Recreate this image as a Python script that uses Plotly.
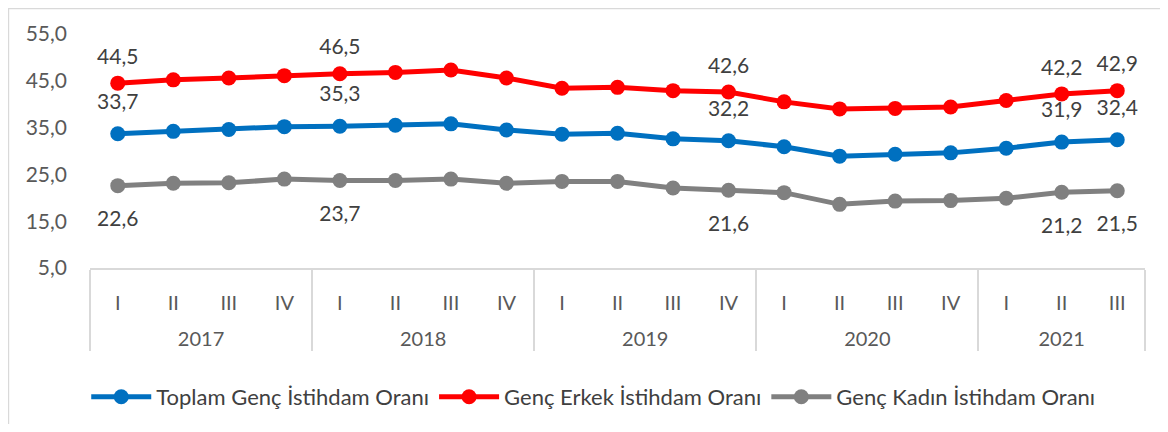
import plotly.graph_objects as go

years = ["2017"] * 4 + ["2018"] * 4 + ["2019"] * 4 + ["2020"] * 4 + ["2021"] * 3
quarters = ["I", "II", "III", "IV"] * 4 + ["I", "II", "III"]

toplam = [33.7, 34.2, 34.6, 35.2, 35.3, 35.5, 35.8, 34.5, 33.6, 33.8, 32.6, 32.2,
          30.9, 28.9, 29.3, 29.6, 30.6, 31.9, 32.4]
erkek = [44.5, 45.2, 45.6, 46.1, 46.5, 46.8, 47.3, 45.6, 43.4, 43.6, 42.9, 42.6,
         40.5, 39.0, 39.1, 39.4, 40.8, 42.2, 42.9]
kadin = [22.6, 23.1, 23.2, 24.0, 23.7, 23.7, 24.0, 23.1, 23.5, 23.5, 22.1, 21.6,
         21.1, 18.6, 19.3, 19.4, 19.9, 21.2, 21.5]

labeled_idx = [0, 4, 11, 17, 18]
series_names = ["Toplam Genç İstihdam Oranı", "Genç Erkek İstihdam Oranı", "Genç Kadın İstihdam Oranı"]
colors = ["#0070C0", "#FF0000", "#808080"]
ytick_vals = [5, 15, 25, 35, 45, 55]

FONT = "Lato, Open Sans, sans-serif"

def fmt(v):
    return f"{v:.1f}".replace(".", ",")

# extra blank line above the year labels to space the two axis levels
x = [["<br>" + y for y in years], quarters]
fig = go.Figure()

for name, vals, col in zip(series_names, [toplam, erkek, kadin], colors):
    fig.add_trace(go.Scatter(
        x=x, y=vals, name=name, mode="lines+markers",
        line=dict(color=col, width=5),
        marker=dict(color=col, size=15),
        hoverinfo="skip",
    ))

# data labels
for vals, pos, size in [(toplam, "top center", 30), (erkek, "top center", 21), (kadin, "bottom center", 38)]:
    texts = [fmt(v) if i in labeled_idx else "" for i, v in enumerate(vals)]
    fig.add_trace(go.Scatter(
        x=x, y=vals, mode="markers+text", text=texts, textposition=pos,
        textfont=dict(family=FONT, size=21, color="#404040"),
        marker=dict(size=size, color="rgba(0,0,0,0)"),
        showlegend=False, hoverinfo="skip", cliponaxis=False,
    ))

fig.update_layout(
    width=1152, height=416,
    margin=dict(l=82, r=15, t=26, b=156, autoexpand=False),
    paper_bgcolor="white", plot_bgcolor="white",
    separators=",.",
    font=dict(family=FONT, size=20, color="#595959"),
    showlegend=True,
    legend=dict(orientation="h", x=0.477, xanchor="center", y=-0.551, yanchor="middle",
                font=dict(family=FONT, size=22, color="#404040"),
                itemwidth=60, traceorder="normal"),
    xaxis=dict(type="multicategory", range=[-0.5, len(quarters) - 0.5], automargin=False,
               showline=True, linecolor="#D9D9D9", linewidth=1.5,
               showgrid=False, showdividers=True, dividercolor="#D9D9D9", dividerwidth=1.5,
               ticks="", ticklabelstandoff=16,
               tickfont=dict(family=FONT, size=20, color="#595959")),
    yaxis=dict(range=[5, 55], tickvals=ytick_vals, tickformat=".1f", automargin=False,
               showgrid=False, zeroline=False, showline=False, ticks="",
               ticklabelstandoff=22,
               tickfont=dict(family=FONT, size=21, color="#595959")),
    shapes=[dict(type="rect", xref="paper", yref="paper",
                 x0=-0.0773, x1=1.2, y0=-2, y1=1.109,
                 line=dict(color="#D9D9D9", width=1.5), fillcolor="rgba(0,0,0,0)", layer="below")],
)

fig.write_html("out.html")
